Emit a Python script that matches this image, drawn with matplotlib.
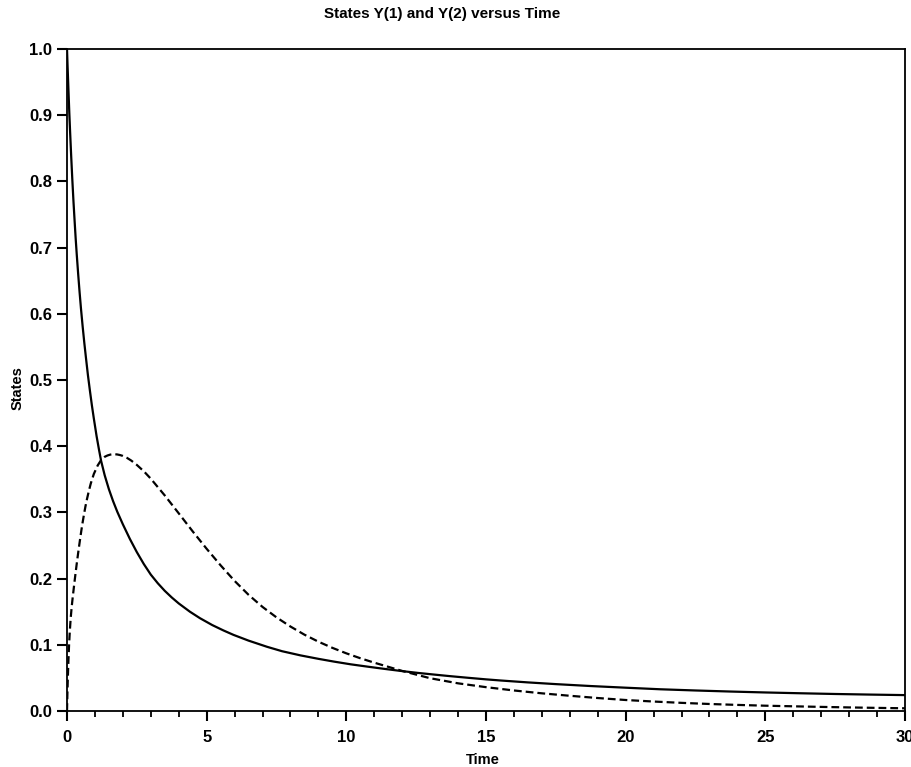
import numpy as np
import matplotlib
matplotlib.use('Agg')
import matplotlib.pyplot as plt
from matplotlib.ticker import MultipleLocator, FormatStrFormatter

plt.rcParams['font.family'] = ['Liberation Sans', 'DejaVu Sans']
plt.rcParams['font.weight'] = 'bold'

# values (Y(1) solid, Y(2) dashed)
t1 = [0, 0.02, 0.05, 0.083, 0.11, 0.15, 0.19, 0.23, 0.27, 0.31, 0.35, 0.40,
      0.45, 0.50, 0.56, 0.62, 0.68, 0.75, 0.82, 0.89, 0.96, 1.06, 1.14, 1.22,
      1.35, 1.5, 1.65, 1.8, 2.0, 2.25, 2.5, 2.75, 3.0, 3.25, 3.5, 3.75, 4.0,
      4.4, 4.76, 5.2, 5.6, 5.96, 6.5, 7.16, 7.7, 8.36, 9.0, 9.56, 10.16, 10.76,
      11.35, 11.95, 12.55, 13.15, 13.7, 14.35, 15.0, 15.55, 16.5, 17.5, 18.75,
      20, 21.25, 22.5, 23.75, 25, 26.25, 27.5, 28.75, 30]
y1 = [1.0, 0.975, 0.94, 0.903, 0.876, 0.838, 0.803, 0.771, 0.742, 0.714, 0.689,
      0.66, 0.633, 0.608, 0.581, 0.556, 0.533, 0.507, 0.484, 0.462, 0.442,
      0.415, 0.396, 0.378, 0.356, 0.335, 0.317, 0.301, 0.282, 0.26, 0.24,
      0.222, 0.206, 0.193, 0.1815, 0.1715, 0.1625, 0.150, 0.1402, 0.1298,
      0.1217, 0.115, 0.1063, 0.097, 0.0903, 0.084, 0.0788, 0.0746, 0.0705,
      0.067, 0.0637, 0.0605, 0.0576, 0.055, 0.0527, 0.0502, 0.0478, 0.046,
      0.0432, 0.0406, 0.0377, 0.0352, 0.0328, 0.031, 0.0294, 0.028, 0.0268,
      0.0257, 0.0248, 0.024]

t2 = [0, 0.015, 0.03, 0.05, 0.074, 0.1, 0.13, 0.165, 0.2, 0.26, 0.3, 0.35,
      0.41, 0.48, 0.54, 0.6, 0.66, 0.72, 0.78, 0.85, 0.96, 1.1, 1.22, 1.35,
      1.45, 1.55, 1.68, 1.8, 1.9, 2.0, 2.15, 2.3, 2.5, 2.76, 3.0, 3.5, 4.0,
      4.5, 5.0, 5.5, 6.0, 6.5, 7.0, 7.5, 8.0, 8.5, 9.0, 9.5, 10.0, 10.5, 11,
      12, 13, 14, 15, 16, 17, 18, 19, 20, 21, 22, 23, 24, 25, 26, 27, 28, 29,
      30]
y2 = [0, 0.028, 0.05, 0.075, 0.10, 0.12, 0.139, 0.156, 0.17, 0.192, 0.206,
      0.223, 0.242, 0.263, 0.28, 0.295, 0.309, 0.321, 0.332, 0.3435, 0.358,
      0.371, 0.379, 0.384, 0.386, 0.3873, 0.388, 0.3875, 0.3866, 0.3853,
      0.3823, 0.3783, 0.3717, 0.3617, 0.3509, 0.3256, 0.2986, 0.2713, 0.245,
      0.22, 0.1965, 0.1755, 0.1572, 0.1414, 0.1276, 0.1153, 0.1047, 0.0954,
      0.0871, 0.0797, 0.073, 0.0605, 0.0495, 0.0418, 0.036, 0.031, 0.0267,
      0.023, 0.0196, 0.0166, 0.0143, 0.0123, 0.0106, 0.0092, 0.008, 0.0071,
      0.0062, 0.0054, 0.0047, 0.0041]

fig = plt.figure(figsize=(9.11, 7.67), dpi=100)
ax = fig.add_axes([67/911, 1 - 711/767, 838/911, 662/767])

ax.plot(t1, y1, color='black', linewidth=1.6)
ax.plot(t2, y2, color='black', linewidth=1.6, linestyle=(0, (3.5, 1.8)))

ax.set_xlim(0, 30)
ax.set_ylim(0, 1.0)
ax.xaxis.set_major_locator(MultipleLocator(5))
ax.xaxis.set_minor_locator(MultipleLocator(1))
ax.yaxis.set_major_locator(MultipleLocator(0.1))
ax.yaxis.set_major_formatter(FormatStrFormatter('%.1f'))

ax.tick_params(axis='both', which='major', direction='out', length=7, width=1.5,
               labelsize=12)
ax.tick_params(axis='x', which='minor', direction='out', length=4.5, width=1.3)
ax.tick_params(axis='x', pad=7)
for s in ax.spines.values():
    s.set_linewidth(1.3)

fig.text(442/911, 1 - 14/767, 'States Y(1) and Y(2) versus Time', fontsize=11,
         fontweight='bold', ha='center', va='center')
ax.set_xlabel('Time', fontsize=10.5, fontweight='bold', va='center')
ax.set_ylabel('States', fontsize=10.5, fontweight='bold', va='center')
ax.xaxis.set_label_coords(0.496, -0.074)
ax.yaxis.set_label_coords(-0.059, 0.488)

fig.savefig('out.png', dpi=100)
